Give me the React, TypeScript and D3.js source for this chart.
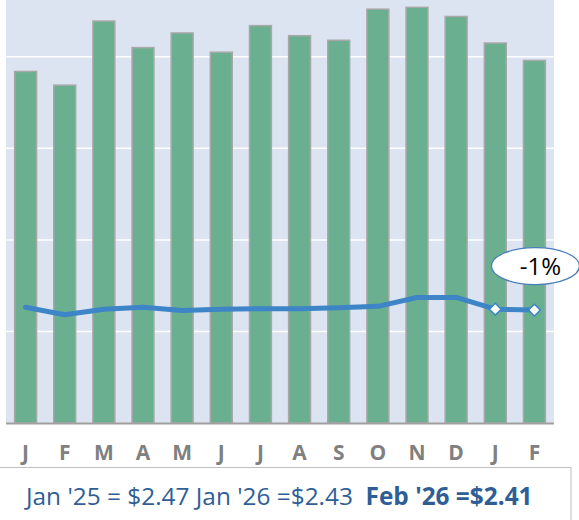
import React from "react";
import * as d3 from "d3";

const months = ["J", "F", "M", "A", "M", "J", "J", "A", "S", "O", "N", "D", "J", "F"];
const volumes = [384, 369, 439, 410, 426, 405, 434, 423, 418, 452, 454, 444, 415, 396];
const prices = [2.47, 2.31, 2.43, 2.47, 2.4, 2.43, 2.44, 2.44, 2.46, 2.49, 2.68, 2.68, 2.43, 2.41];
const gridTicks = [0, 100, 200, 300, 400];
const markerIdx = [12, 13];
const calloutText = "-1%";
const footerNormal = "Jan '25 = $2.47 Jan '26 =$2.43";
const footerBold = "Feb '26 =$2.41";

const W = 579;
const H = 520;
const plot = { left: 6, right: 554, top: 0, bottom: 423 };
const FONT = "'Open Sans', Lato, sans-serif";

export default function App() {
  const idx = months.map((_, i) => i);
  const x = d3
    .scaleBand<number>()
    .domain(idx)
    .range([plot.left, plot.right])
    .paddingInner(0.44)
    .paddingOuter(0.22);
  const y = d3.scaleLinear().domain([0, 462]).range([plot.bottom, plot.top]);
  const yP = d3.scaleLinear().domain([0, 9.03]).range([plot.bottom, plot.top]);
  const cx = (i: number) => (x(i) as number) + x.bandwidth() / 2;

  const line = d3
    .line<number>()
    .x((_, i) => cx(i))
    .y((d) => yP(d));

  const diamond = d3.symbol().type(d3.symbolSquare).size(70)();

  const lastI = prices.length - 1;
  const calloutX = cx(lastI) + 1;
  const calloutY = yP(prices[lastI]) - 44;

  return (
    <svg
      width={W}
      height={H}
      style={{ position: "absolute", left: 0, top: 0, background: "#fff" }}
      fontFamily={FONT}
    >
      <rect
        x={plot.left}
        y={plot.top}
        width={plot.right - plot.left}
        height={plot.bottom - plot.top}
        fill="#DCE4F1"
      />
      {gridTicks.slice(1).map((t) => (
        <line
          key={t}
          x1={plot.left}
          x2={plot.right}
          y1={y(t)}
          y2={y(t)}
          stroke="#FFFFFF"
          strokeWidth={1.5}
        />
      ))}
      {volumes.map((v, i) => (
        <rect
          key={i}
          x={x(i)}
          y={y(v)}
          width={x.bandwidth()}
          height={y(0) - y(v)}
          fill="#6AAF8F"
          stroke="#A8A8A8"
          strokeWidth={1.5}
        />
      ))}
      <line
        x1={plot.left}
        x2={plot.right}
        y1={y(0) + 0.5}
        y2={y(0) + 0.5}
        stroke="#A0A0A0"
        strokeWidth={2}
      />
      <path
        d={line(prices) || ""}
        fill="none"
        stroke="#3D85C6"
        strokeWidth={5}
        strokeLinejoin="round"
        strokeLinecap="round"
      />
      {markerIdx.map((i) => (
        <path
          key={i}
          d={diamond || ""}
          transform={`translate(${cx(i)},${yP(prices[i])}) rotate(45)`}
          fill="#FFFFFF"
          stroke="#3D85C6"
          strokeWidth={1.5}
        />
      ))}
      <ellipse
        cx={calloutX}
        cy={calloutY}
        rx={44}
        ry={18.5}
        fill="#FFFFFF"
        stroke="#4A7EBB"
        strokeWidth={1.25}
      />
      <text
        x={calloutX + 5}
        y={calloutY + 8.5}
        textAnchor="middle"
        fontSize={24}
        fill="#000"
      >
        {calloutText}
      </text>
      {months.map((m, i) => (
        <text
          key={i}
          x={cx(i)}
          y={460}
          textAnchor="middle"
          fontSize={21}
          fontWeight="bold"
          fill="#808080"
        >
          {m}
        </text>
      ))}
      <rect x={-1} y={467.5} width={572} height={70} fill="#FFFFFF" stroke="#BFBFBF" strokeWidth={1} />
      <text x={26} y={505} fontSize={24.4} fill="#2F5E97" style={{ whiteSpace: "pre" }}>
        <tspan>{footerNormal + "  "}</tspan>
        <tspan fontWeight="bold">{footerBold}</tspan>
      </text>
    </svg>
  );
}
